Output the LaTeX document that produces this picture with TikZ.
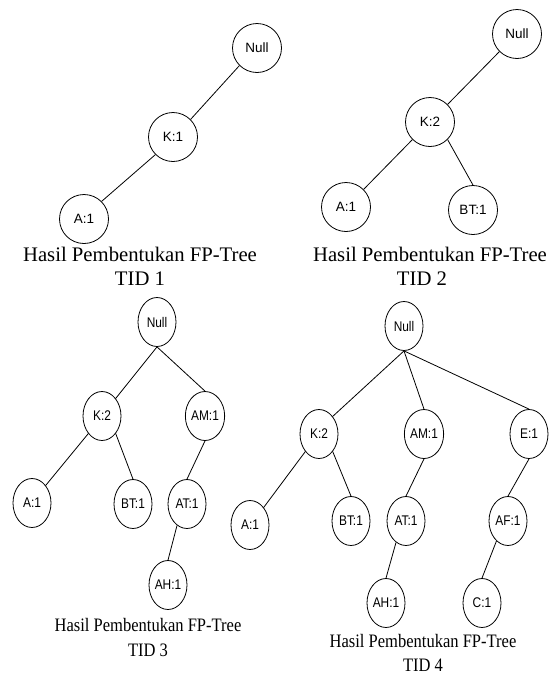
\documentclass[tikz,border=0pt]{standalone}
\usepackage{fontspec}
\usepackage{graphicx}
\setmainfont{Liberation Serif}
\newfontfamily\labelfont{Liberation Sans}
\usetikzlibrary{shapes.geometric}

% horizontally condensed text for the lower trees
\newcommand{\squeezed}[1]{\scalebox{0.85}[1]{#1}}
\newcommand{\squeezedcap}[1]{\scalebox{0.87}[1]{#1}}

\begin{document}
\begin{tikzpicture}[x=1pt,y=-1pt,
  edge/.style={line width=0.8pt},
  roundnode/.style={circle, draw, line width=0.8pt, minimum size=49pt,
    inner sep=0pt, font=\labelfont\fontsize{13.5}{15}\selectfont},
  ovalnode/.style={ellipse, draw, line width=0.8pt, minimum width=38pt,
    minimum height=49pt, inner sep=0pt,
    font=\labelfont\fontsize{14}{15}\selectfont},
  captop/.style={inner sep=0pt, font=\fontsize{20.7}{24}\selectfont},
  capbot/.style={inner sep=0pt, font=\fontsize{19}{22}\selectfont},
]
\useasboundingbox (0,0) rectangle (552,675);

% ---- FP-tree after TID 1 ----
\node[roundnode] (a-null) at (257,48)  {Null};
\node[roundnode] (a-k)    at (173,137) {K:1};
\node[roundnode] (a-a)    at (84,219)  {A:1};
\draw[edge] (a-null.south west) -- (a-k.north east);
\draw[edge] (a-k.south west) -- (a-a.north east);
\node[captop] (a-cap1) at (140,254) {Hasil Pembentukan FP-Tree};
\node[captop] (a-cap2) at (140,279) {TID 1};

% ---- FP-tree after TID 2 ----
\node[roundnode] (b-null) at (517,34)  {Null};
\node[roundnode] (b-k)    at (430,122) {K:2};
\node[roundnode] (b-a)    at (346,207) {A:1};
\node[roundnode] (b-bt)   at (473,210) {BT:1};
\draw[edge] (b-null.south west) -- (b-k.north east);
\draw[edge] (b-k.south west) -- (b-a.north east);
\draw[edge] (b-k.south east) -- (b-bt.north);
\node[captop] (b-cap1) at (430,254) {Hasil Pembentukan FP-Tree};
\node[captop] (b-cap2) at (422,279) {TID 2};

% ---- FP-tree after TID 3 ----
\node[ovalnode] (c-null) at (157,322) {\squeezed{Null}};
\node[ovalnode] (c-k)    at (102,416) {\squeezed{K:2}};
\node[ovalnode] (c-am)   at (205,416) {\squeezed{AM:1}};
\node[ovalnode] (c-a)    at (32,503)  {\squeezed{A:1}};
\node[ovalnode] (c-bt)   at (133,504) {\squeezed{BT:1}};
\node[ovalnode] (c-at)   at (187,504) {\squeezed{AT:1}};
\node[ovalnode] (c-ah)   at (168,585) {\squeezed{AH:1}};
\draw[edge] (c-null.south) -- (c-k.north east);
\draw[edge] (c-null.south) -- (c-am.north);
\draw[edge] (c-k.south west) -- (c-a.north east);
\draw[edge] (c-k.south east) -- (c-bt.north);
\draw[edge] (c-am.south) -- (c-at.north);
\draw[edge] (c-at.-115) -- (c-ah.north);
\node[capbot] (c-cap1) at (148,625) {\squeezedcap{Hasil Pembentukan FP-Tree}};
\node[capbot] (c-cap2) at (148,650) {\squeezedcap{TID 3}};

% ---- FP-tree after TID 4 ----
\node[ovalnode] (d-null) at (404,326) {\squeezed{Null}};
\node[ovalnode] (d-k)    at (319,434) {\squeezed{K:2}};
\node[ovalnode] (d-am)   at (424,434) {\squeezed{AM:1}};
\node[ovalnode] (d-e)    at (529,434) {\squeezed{E:1}};
\node[ovalnode] (d-a)    at (250,525) {\squeezed{A:1}};
\node[ovalnode] (d-bt)   at (351,521) {\squeezed{BT:1}};
\node[ovalnode] (d-at)   at (406,521) {\squeezed{AT:1}};
\node[ovalnode] (d-af)   at (508,521) {\squeezed{AF:1}};
\node[ovalnode] (d-ah)   at (386,603) {\squeezed{AH:1}};
\node[ovalnode] (d-c)    at (482,603) {\squeezed{C:1}};
\draw[edge] (d-null.south) -- (d-k.north east);
\draw[edge] (d-null.south) -- (d-am.north);
\draw[edge] (d-null.south) -- (d-e.north);
\draw[edge] (d-k.south west) -- (d-a.north east);
\draw[edge] (d-k.south east) -- (d-bt.north);
\draw[edge] (d-am.south) -- (d-at.north);
\draw[edge] (d-at.-115) -- (d-ah.north);
\draw[edge] (d-e.south) -- (d-af.north);
\draw[edge] (d-af.-120) -- (d-c.north);
\node[capbot] (d-cap1) at (423,641) {\squeezedcap{Hasil Pembentukan FP-Tree}};
\node[capbot] (d-cap2) at (423,665) {\squeezedcap{TID 4}};
\end{tikzpicture}
\end{document}
